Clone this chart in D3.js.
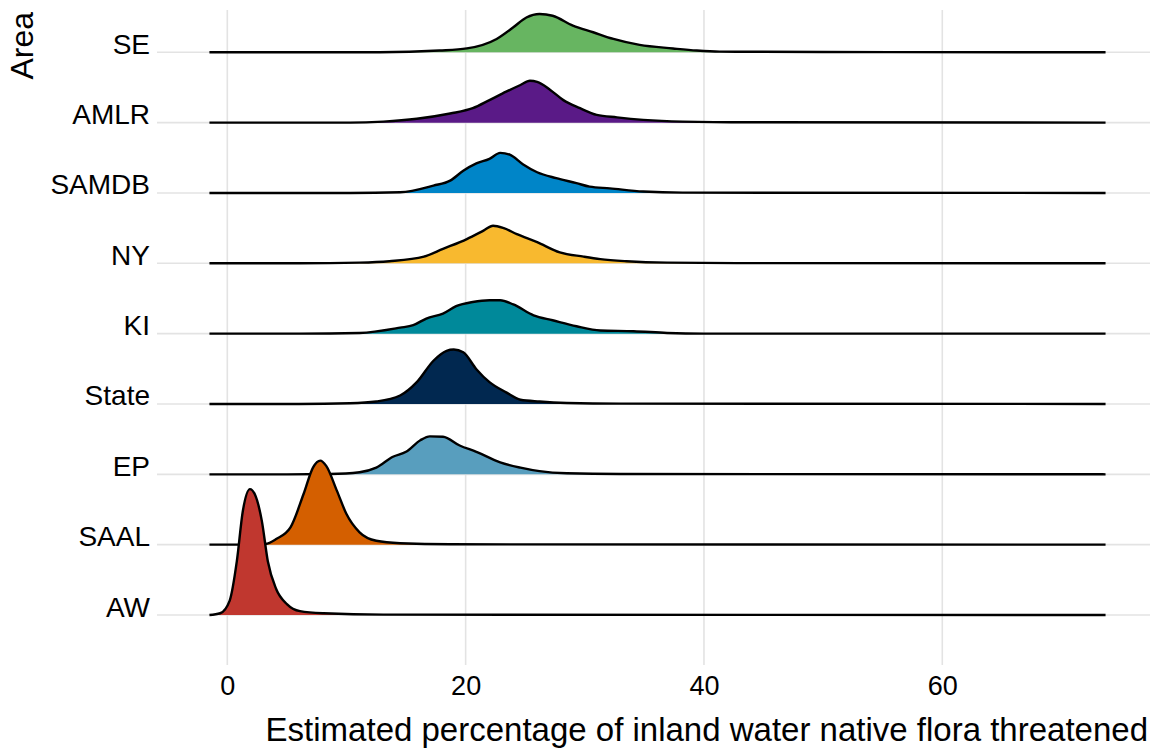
<!DOCTYPE html>
<html>
<head>
<meta charset="utf-8">
<script src="https://cdn.jsdelivr.net/npm/d3@7"></script>
<style>
  body { margin: 0; background: #fff; }
  text { font-family: "Liberation Sans", Arial, sans-serif; fill: #000; }
  .grid line { stroke: #e3e3e3; stroke-width: 1.6; }
  .ridge-line { fill: none; stroke: #000; stroke-width: 2.4; stroke-linejoin: round; }
</style>
</head>
<body>
<div id="plot"></div>
<script>
//areas, bottom row first
var areas = ["AW", "SAAL", "EP", "State", "KI", "NY", "SAMDB", "AMLR", "SE"];

var fills = {
  SE: "#67b561",
  AMLR: "#5a1a87",
  SAMDB: "#0085c8",
  NY: "#f8b92f",
  KI: "#00899a",
  State: "#012850",
  EP: "#589ebe",
  SAAL: "#d45f00",
  AW: "#c0372f"
};

var xTicks = [0, 20, 40, 60];

var dens_SE = [[-1.5, 0], [12.8, 0], [17.8, 0.005], [20.1, 0.011], [22.6, 0.038], [24.0, 0.071],
  [25.1, 0.099], [26.2, 0.109], [27.3, 0.104], [29.0, 0.076], [30.7, 0.057], [32.4, 0.038],
  [34.6, 0.021], [37.4, 0.011], [39.4, 0.005], [41.3, 0.002], [50, 0.001], [73.7, 0]];

var dens_AMLR = [[-1.5, 0], [10.3, 0], [13.1, 0.003], [15.9, 0.011], [18.7, 0.026], [20.6, 0.041],
  [22.0, 0.064], [23.4, 0.088], [24.6, 0.107], [25.4, 0.119], [26.0, 0.116], [27.1, 0.093],
  [28.2, 0.064], [29.6, 0.041], [31.0, 0.022], [32.7, 0.015], [34.9, 0.008], [38.2, 0.003],
  [43.8, 0.001], [73.7, 0]];

var dens_SAMDB = [[-1.5, 0], [10.3, 0], [14.5, 0.002], [17.3, 0.021], [18.7, 0.035], [19.8, 0.063],
  [20.9, 0.084], [22.0, 0.097], [22.9, 0.114], [23.7, 0.109], [24.8, 0.082], [26.0, 0.059],
  [27.6, 0.042], [29.3, 0.028], [30.4, 0.018], [32.1, 0.013], [34.9, 0.004], [38.2, 0.001],
  [73.7, 0]];

var dens_NY = [[-1.5, 0], [6.1, 0], [11.1, 0.002], [13.6, 0.006], [16.5, 0.019], [18.1, 0.041],
  [20.1, 0.069], [21.5, 0.093], [22.3, 0.107], [23.2, 0.100], [24.3, 0.083], [26.0, 0.060],
  [27.9, 0.031], [29.9, 0.019], [31.3, 0.012], [33.5, 0.006], [36.9, 0.002], [45, 0.0005],
  [73.7, 0]];

var dens_KI = [[-1.5, 0], [6.1, 0], [11.1, 0.002], [14.5, 0.017], [15.6, 0.024], [16.7, 0.043],
  [18.1, 0.057], [19.2, 0.078], [20.6, 0.090], [22.0, 0.095], [22.9, 0.095], [24.0, 0.083],
  [25.7, 0.052], [27.3, 0.038], [29.3, 0.021], [31.3, 0.009], [34.1, 0.007], [36.9, 0.002],
  [40, 0], [73.7, 0]];

var dens_State = [[-1.5, 0], [6, 0], [10.3, 0.002], [12.5, 0.007], [14.5, 0.024], [15.9, 0.062],
  [17.3, 0.123], [18.4, 0.151], [19.0, 0.155], [19.8, 0.147], [20.9, 0.099], [22.0, 0.062],
  [23.4, 0.033], [24.6, 0.012], [26.2, 0.007], [28.5, 0.003], [33, 0.001], [73.7, 0]];

var dens_EP = [[-1.5, 0], [5, 0], [8.6, 0.001], [11.1, 0.006], [12.5, 0.019], [13.9, 0.050],
  [15.0, 0.064], [16.2, 0.097], [17.0, 0.108], [18.1, 0.107], [19.5, 0.082], [20.9, 0.064],
  [22.9, 0.034], [24.6, 0.019], [26.2, 0.009], [28.5, 0.003], [33, 0.001], [73.7, 0]];

var dens_SAAL = [[-1.5, 0], [2, 0], [3.2, 0.002], [4.1, 0.016], [5.3, 0.049], [6.4, 0.144],
  [7.2, 0.220], [7.8, 0.239], [8.3, 0.224], [9.2, 0.153], [10.0, 0.087], [11.1, 0.035],
  [12.5, 0.011], [14.5, 0.004], [18.7, 0.001], [73.7, 0]];

var dens_AW = [[-1.5, 0], [-0.6, 0.005], [0.2, 0.041], [0.8, 0.153], [1.3, 0.295], [1.9, 0.358],
  [2.3, 0.344], [2.9, 0.267], [3.4, 0.153], [4.1, 0.074], [5.0, 0.031], [6.1, 0.011],
  [8.1, 0.005], [13.1, 0.001], [73.7, 0]];

var densities = {
  SE: dens_SE, AMLR: dens_AMLR, SAMDB: dens_SAMDB, NY: dens_NY, KI: dens_KI,
  State: dens_State, EP: dens_EP, SAAL: dens_SAAL, AW: dens_AW
};

//panel box in page pixels
var W = 1157, H = 752;
var panel = { left: 157, right: 1150, top: 10, bottom: 665 };

var svg = d3.select("#plot").append("svg")
  .attr("width", W)
  .attr("height", H);

var xScale = d3.scaleLinear()
  .domain([-5.9, 77.43])
  .range([panel.left, panel.right]);

var yScale = d3.scalePoint()
  .domain(areas)
  .range([615, 52.3]);

var step = yScale.step();
var ridgeScale = 1.79;

var allMax = d3.max(areas, function(a) {
  return d3.max(densities[a], function(d) { return d[1]; });
});

var hScale = d3.scaleLinear()
  .domain([0, allMax])
  .range([0, step * ridgeScale]);

// grid
var grid = svg.append("g").attr("class", "grid");
grid.selectAll(".vgrid")
  .data(xTicks).enter()
  .append("line")
  .attr("x1", function(d) { return xScale(d); })
  .attr("x2", function(d) { return xScale(d); })
  .attr("y1", panel.top)
  .attr("y2", panel.bottom);

grid.selectAll(".hgrid")
  .data(areas).enter()
  .append("line")
  .attr("x1", panel.left)
  .attr("x2", panel.right)
  .attr("y1", function(d) { return yScale(d); })
  .attr("y2", function(d) { return yScale(d); });

// ridges, top row drawn first so lower ones sit in front
var drawOrder = areas.slice().reverse();

var ridges = svg.append("g").attr("class", "ridges");

drawOrder.forEach(function(a) {
  var base = yScale(a);

  var area = d3.area()
    .curve(d3.curveMonotoneX)
    .x(function(d) { return xScale(d[0]); })
    .y0(base)
    .y1(function(d) { return base - hScale(d[1]); });

  var line = d3.line()
    .curve(d3.curveMonotoneX)
    .x(function(d) { return xScale(d[0]); })
    .y(function(d) { return base - hScale(d[1]); });

  var g = ridges.append("g");
  g.append("path")
    .datum(densities[a])
    .attr("d", area)
    .attr("fill", fills[a]);
  g.append("path")
    .datum(densities[a])
    .attr("class", "ridge-line")
    .attr("d", line);
});

// x axis
var xAxis = d3.axisBottom(xScale)
  .tickValues(xTicks)
  .tickSize(0)
  .tickPadding(11);

var gx = svg.append("g")
  .attr("transform", "translate(0," + panel.bottom + ")")
  .call(xAxis);
gx.select(".domain").remove();
gx.selectAll("text")
  .style("font-size", "27px")
  .style("fill", "#000")
  .style("font-family", "'Liberation Sans', Arial, sans-serif");

// y axis
var yAxis = d3.axisLeft(yScale)
  .tickSize(0)
  .tickPadding(7);

var gy = svg.append("g")
  .attr("transform", "translate(" + panel.left + ",0)")
  .call(yAxis);
gy.select(".domain").remove();
gy.selectAll("text")
  .attr("dy", 1)
  .style("font-size", "28px")
  .style("fill", "#000")
  .style("font-family", "'Liberation Sans', Arial, sans-serif");

// axis titles
svg.append("text")
  .attr("x", panel.right - 2)
  .attr("y", 741)
  .attr("text-anchor", "end")
  .style("font-size", "33px")
  .text("Estimated percentage of inland water native flora threatened");

svg.append("text")
  .attr("transform", "translate(33," + 12 + ") rotate(-90)")
  .attr("text-anchor", "end")
  .style("font-size", "32px")
  .text("Area");
</script>
</body>
</html>
